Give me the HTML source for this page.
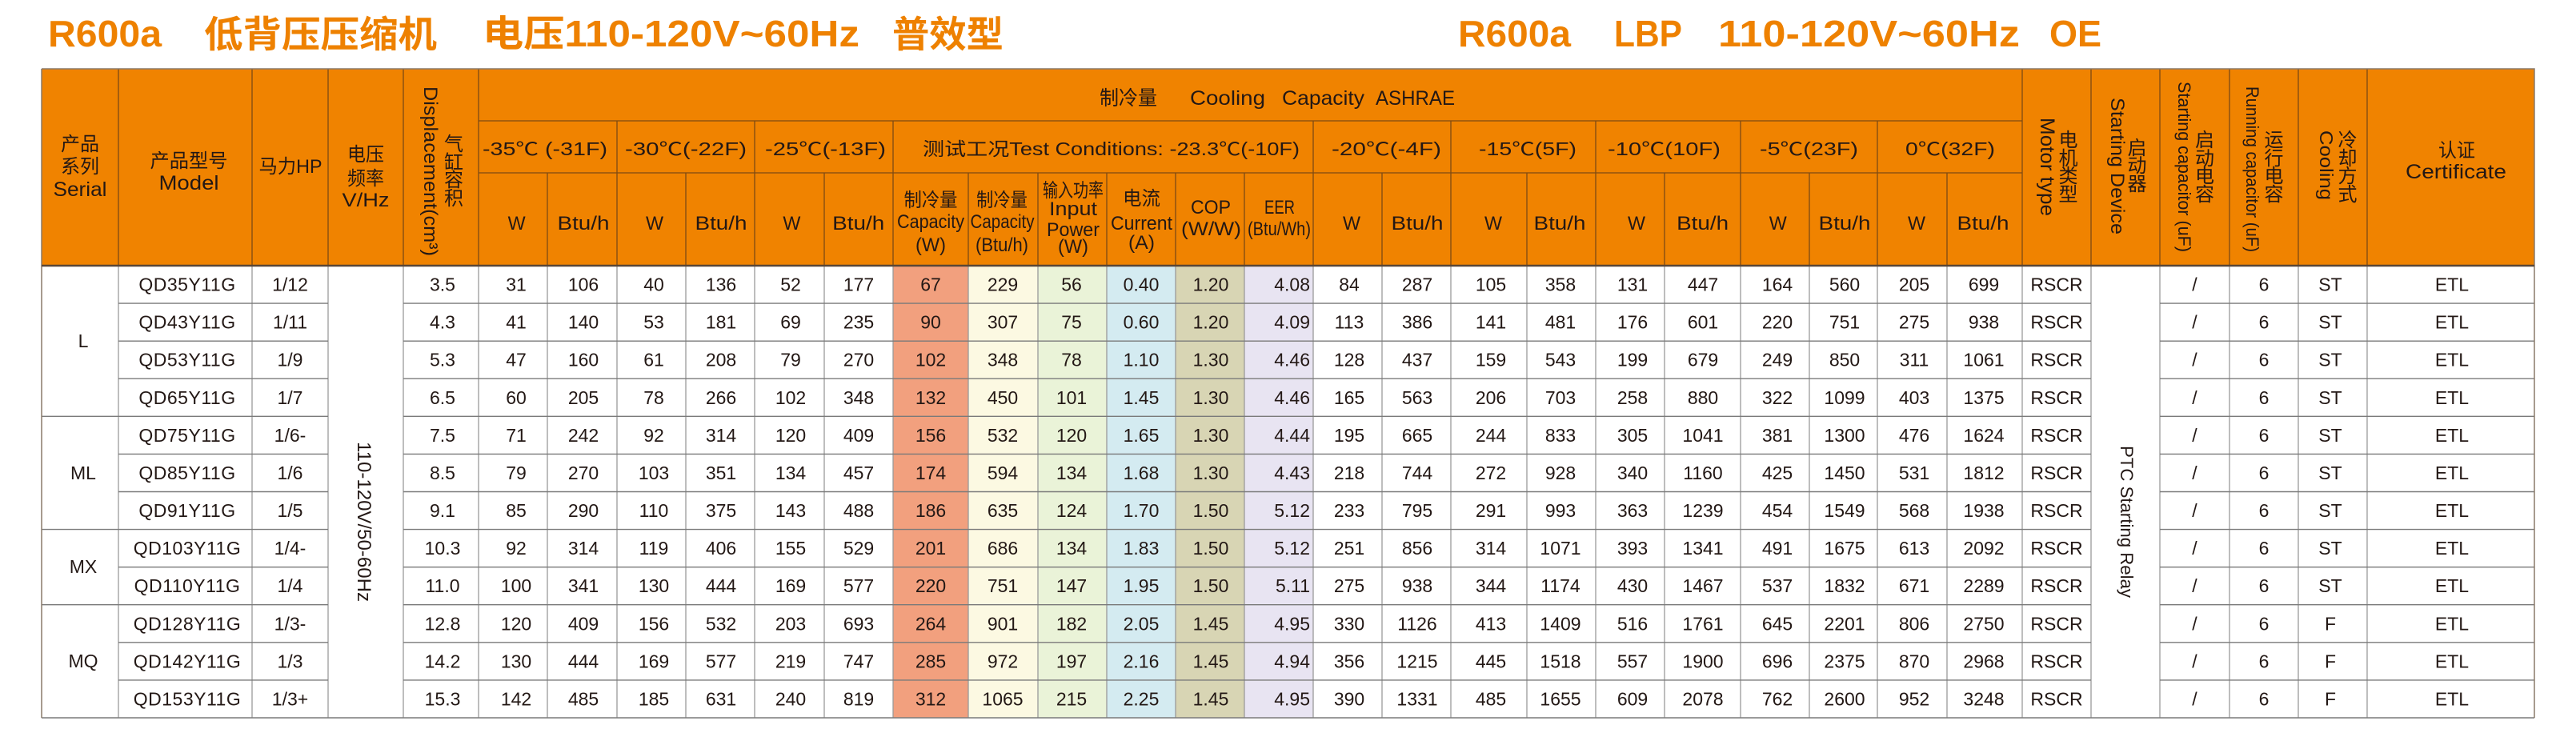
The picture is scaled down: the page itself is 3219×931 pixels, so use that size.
<!DOCTYPE html>
<html><head><meta charset="utf-8"><style>
html,body{margin:0;padding:0;background:#fff;}
svg{display:block;}
.t{font-family:"Liberation Sans","Noto Sans CJK SC",sans-serif;font-weight:bold;fill:#EE8100;font-size:46px;}
.h{font-family:"Liberation Sans","Noto Sans CJK SC",sans-serif;fill:#231815;font-size:24px;text-anchor:middle;}
.hs{font-family:"Liberation Sans","Noto Sans CJK SC",sans-serif;fill:#231815;font-size:24px;text-anchor:start;}
.d{font-family:"Liberation Sans","Noto Sans CJK SC",sans-serif;fill:#231815;font-size:23px;text-anchor:middle;}
.e{text-anchor:end;}
</style></head><body>
<svg width="3219" height="931" viewBox="0 0 3219 931" xmlns="http://www.w3.org/2000/svg">
<rect x="0" y="0" width="3219" height="931" fill="#fff"/>
<!-- Titles -->
<text class="t" x="60" y="58" textLength="142" lengthAdjust="spacingAndGlyphs">R600a</text>
<text class="t" x="255" y="59" textLength="291" lengthAdjust="spacingAndGlyphs">低背压压缩机</text>
<text class="t" x="603" y="58" textLength="471" lengthAdjust="spacingAndGlyphs">电压110-120V~60Hz</text>
<text class="t" x="1115" y="59" textLength="139" lengthAdjust="spacingAndGlyphs">普效型</text>
<text class="t" x="1822" y="58" textLength="141" lengthAdjust="spacingAndGlyphs">R600a</text>
<text class="t" x="2017" y="58" textLength="85" lengthAdjust="spacingAndGlyphs">LBP</text>
<text class="t" x="2147" y="58" textLength="377" lengthAdjust="spacingAndGlyphs">110-120V~60Hz</text>
<text class="t" x="2561" y="58" textLength="65" lengthAdjust="spacingAndGlyphs">OE</text>

<!-- Header background -->
<rect x="52" y="86" width="3115" height="246" fill="#F08300"/>
<!-- Colored data columns -->
<rect x="1116" y="332" width="94" height="565" fill="#F2A07E"/>
<rect x="1210" y="332" width="87" height="565" fill="#FCF9E2"/>
<rect x="1297" y="332" width="86" height="565" fill="#EAF3D8"/>
<rect x="1383" y="332" width="86" height="565" fill="#D4EBF1"/>
<rect x="1469" y="332" width="86" height="565" fill="#D8D5B4"/>
<rect x="1555" y="332" width="86" height="565" fill="#E8E4F2"/>

<!-- Header lines -->
<g stroke="#7d4a14" stroke-width="1.3" fill="none">
<path d="M148 86V332M315 86V332M410 86V332M504 86V332M598 86V332M2527 86V332M2613 86V332M2699 86V332M2786 86V332M2872 86V332M2958 86V332"/>
<path d="M598 151H2527M598 216H2527"/>
<path d="M771 151V332M943 151V332M1116 151V332M1641 151V332M1813 151V332M1994 151V332M2175 151V332M2346 151V332"/>
<path d="M684 216V332M857 216V332M1030 216V332M1210 216V332M1297 216V332M1383 216V332M1469 216V332M1555 216V332M1727 216V332M1908 216V332M2080 216V332M2261 216V332M2433 216V332"/>
</g>

<!-- Data vertical lines -->
<g stroke="#9a9a9a" stroke-width="1.3" fill="none">
<path d="M148 332V897M315 332V897M410 332V897M504 332V897M598 332V897M684 332V897M771 332V897M857 332V897M943 332V897M1030 332V897M1116 332V897M1210 332V897M1297 332V897M1383 332V897M1469 332V897M1555 332V897M1641 332V897M1727 332V897M1813 332V897M1908 332V897M1994 332V897M2080 332V897M2175 332V897M2261 332V897M2346 332V897M2433 332V897M2527 332V897M2613 332V897M2699 332V897M2786 332V897M2872 332V897M2958 332V897"/>
</g>
<!-- Data horizontal lines -->
<g stroke="#7a7a7a" stroke-width="1.4" fill="none">
<path d="M148 379.1H410M504 379.1H2613M2699 379.1H3167"/>
<path d="M148 426.2H410M504 426.2H2613M2699 426.2H3167"/>
<path d="M148 473.2H410M504 473.2H2613M2699 473.2H3167"/>
<path d="M52 520.3H410M504 520.3H2613M2699 520.3H3167"/>
<path d="M148 567.4H410M504 567.4H2613M2699 567.4H3167"/>
<path d="M148 614.5H410M504 614.5H2613M2699 614.5H3167"/>
<path d="M52 661.6H410M504 661.6H2613M2699 661.6H3167"/>
<path d="M148 708.7H410M504 708.7H2613M2699 708.7H3167"/>
<path d="M52 755.7H410M504 755.7H2613M2699 755.7H3167"/>
<path d="M148 802.8H410M504 802.8H2613M2699 802.8H3167"/>
<path d="M148 849.9H410M504 849.9H2613M2699 849.9H3167"/>
<path d="M52 897H3167"/>
</g>
<!-- Outer border -->
<path d="M52 86H3167V897M52 86V897" stroke="#8a7a6a" stroke-width="1.5" fill="none"/>
<path d="M52 332H3167" stroke="#5a4636" stroke-width="2.5" fill="none"/>

<!-- Header texts -->
<g class="h">
<text x="100" y="188" textLength="48" lengthAdjust="spacingAndGlyphs">产品</text>
<text x="100" y="216" textLength="48" lengthAdjust="spacingAndGlyphs">系列</text>
<text x="100" y="245" font-size="25" textLength="67" lengthAdjust="spacingAndGlyphs">Serial</text>
<text x="236" y="209" textLength="97" lengthAdjust="spacingAndGlyphs">产品型号</text>
<text x="236" y="237" font-size="25" textLength="75" lengthAdjust="spacingAndGlyphs">Model</text>
<text x="363" y="216" textLength="79" lengthAdjust="spacingAndGlyphs">马力HP</text>
<text x="457" y="201" textLength="46" lengthAdjust="spacingAndGlyphs">电压</text>
<text x="457" y="231" textLength="46" lengthAdjust="spacingAndGlyphs">频率</text>
<text x="457" y="258" textLength="59" lengthAdjust="spacingAndGlyphs">V/Hz</text>
<text x="567" y="188">气</text>
<text x="567" y="211">缸</text>
<text x="567" y="233">容</text>
<text x="567" y="256">积</text>
<text x="1410" y="131" font-size="25" textLength="72" lengthAdjust="spacingAndGlyphs">制冷量</text>
<!-- row2 -->
<text x="681" y="194" font-size="23" textLength="156" lengthAdjust="spacingAndGlyphs">-35℃ (-31F)</text>
<text x="857" y="194" font-size="23" textLength="152" lengthAdjust="spacingAndGlyphs">-30℃(-22F)</text>
<text x="1031.5" y="194" font-size="23" textLength="151" lengthAdjust="spacingAndGlyphs">-25℃(-13F)</text>
<text x="1388.5" y="194" font-size="23" textLength="471" lengthAdjust="spacingAndGlyphs">测试工况Test Conditions: -23.3℃(-10F)</text>
<text x="1732.5" y="194" font-size="23" textLength="137" lengthAdjust="spacingAndGlyphs">-20℃(-4F)</text>
<text x="1909" y="194" font-size="23" textLength="122" lengthAdjust="spacingAndGlyphs">-15℃(5F)</text>
<text x="2079.5" y="194" font-size="23" textLength="141" lengthAdjust="spacingAndGlyphs">-10℃(10F)</text>
<text x="2260.5" y="194" font-size="23" textLength="123" lengthAdjust="spacingAndGlyphs">-5℃(23F)</text>
<text x="2437" y="194" font-size="23" textLength="112" lengthAdjust="spacingAndGlyphs">0℃(32F)</text>
<!-- row3 W / Btu/h -->
<text x="645.6" y="287" textLength="22" lengthAdjust="spacingAndGlyphs">W</text>
<text x="729" y="287" textLength="65" lengthAdjust="spacingAndGlyphs">Btu/h</text>
<text x="818" y="287" textLength="22" lengthAdjust="spacingAndGlyphs">W</text>
<text x="901" y="287" textLength="65" lengthAdjust="spacingAndGlyphs">Btu/h</text>
<text x="989.4" y="287" textLength="22" lengthAdjust="spacingAndGlyphs">W</text>
<text x="1072.7" y="287" textLength="65" lengthAdjust="spacingAndGlyphs">Btu/h</text>
<text x="1689" y="287" textLength="22" lengthAdjust="spacingAndGlyphs">W</text>
<text x="1771" y="287" textLength="65" lengthAdjust="spacingAndGlyphs">Btu/h</text>
<text x="1866" y="287" textLength="22" lengthAdjust="spacingAndGlyphs">W</text>
<text x="1949" y="287" textLength="65" lengthAdjust="spacingAndGlyphs">Btu/h</text>
<text x="2045" y="287" textLength="22" lengthAdjust="spacingAndGlyphs">W</text>
<text x="2127.6" y="287" textLength="65" lengthAdjust="spacingAndGlyphs">Btu/h</text>
<text x="2221.7" y="287" textLength="22" lengthAdjust="spacingAndGlyphs">W</text>
<text x="2305" y="287" textLength="65" lengthAdjust="spacingAndGlyphs">Btu/h</text>
<text x="2395" y="287" textLength="22" lengthAdjust="spacingAndGlyphs">W</text>
<text x="2478" y="287" textLength="65" lengthAdjust="spacingAndGlyphs">Btu/h</text>
<!-- test sub headers -->
<text x="1163" y="258" textLength="67" lengthAdjust="spacingAndGlyphs">制冷量</text>
<text x="1163" y="285" textLength="84" lengthAdjust="spacingAndGlyphs">Capacity</text>
<text x="1163" y="314" textLength="38" lengthAdjust="spacingAndGlyphs">(W)</text>
<text x="1252" y="258" textLength="64" lengthAdjust="spacingAndGlyphs">制冷量</text>
<text x="1252.5" y="285" textLength="80" lengthAdjust="spacingAndGlyphs">Capacity</text>
<text x="1252" y="314" textLength="66" lengthAdjust="spacingAndGlyphs">(Btu/h)</text>
<text x="1341" y="246" textLength="76" lengthAdjust="spacingAndGlyphs">输入功率</text>
<text x="1341" y="269" textLength="60" lengthAdjust="spacingAndGlyphs">Input</text>
<text x="1341" y="295" textLength="66" lengthAdjust="spacingAndGlyphs">Power</text>
<text x="1341" y="316" textLength="38" lengthAdjust="spacingAndGlyphs">(W)</text>
<text x="1426.5" y="256" textLength="47" lengthAdjust="spacingAndGlyphs">电流</text>
<text x="1426.5" y="287" textLength="77" lengthAdjust="spacingAndGlyphs">Current</text>
<text x="1426.5" y="311" textLength="33" lengthAdjust="spacingAndGlyphs">(A)</text>
<text x="1513" y="267" textLength="50" lengthAdjust="spacingAndGlyphs">COP</text>
<text x="1513.5" y="294" textLength="75" lengthAdjust="spacingAndGlyphs">(W/W)</text>
<text x="1599" y="267" textLength="38" lengthAdjust="spacingAndGlyphs">EER</text>
<text x="1598.5" y="294" textLength="79" lengthAdjust="spacingAndGlyphs">(Btu/Wh)</text>
<!-- right CJK stacks -->
<text x="2584.5" y="183">电</text><text x="2584.5" y="206">机</text><text x="2584.5" y="228">类</text><text x="2584.5" y="251">型</text>
<text x="2670.5" y="193">启</text><text x="2670.5" y="215">动</text><text x="2670.5" y="238">器</text>
<text x="2755" y="183">启</text><text x="2755" y="206">动</text><text x="2755" y="228">电</text><text x="2755" y="251">容</text>
<text x="2841.5" y="183">运</text><text x="2841.5" y="206">行</text><text x="2841.5" y="228">电</text><text x="2841.5" y="251">容</text>
<text x="2933.5" y="183">冷</text><text x="2933.5" y="206">却</text><text x="2933.5" y="228">方</text><text x="2933.5" y="251">式</text>
<text x="3070" y="196" textLength="46" lengthAdjust="spacingAndGlyphs">认证</text>
<text x="3069" y="223" font-size="25" textLength="126" lengthAdjust="spacingAndGlyphs">Certificate</text>
</g>
<g class="hs">
<text x="1487" y="131" font-size="25" textLength="94" lengthAdjust="spacingAndGlyphs">Cooling</text>
<text x="1602" y="131" font-size="25" textLength="103" lengthAdjust="spacingAndGlyphs">Capacity</text>
<text x="1719" y="131" font-size="25" textLength="99" lengthAdjust="spacingAndGlyphs">ASHRAE</text>
<text transform="translate(530,108) rotate(90)" x="0" y="0" font-size="24" textLength="212" lengthAdjust="spacingAndGlyphs">Displacement(cm³)</text>
<text transform="translate(2550,147) rotate(90)" x="0" y="0" font-size="25" textLength="123" lengthAdjust="spacingAndGlyphs">Motor type</text>
<text transform="translate(2638,122) rotate(90)" x="0" y="0" font-size="24" textLength="171" lengthAdjust="spacingAndGlyphs">Starting Device</text>
<text transform="translate(2722,102) rotate(90)" x="0" y="0" font-size="22" textLength="213" lengthAdjust="spacingAndGlyphs">Starting capacitor (uF)</text>
<text transform="translate(2807,108) rotate(90)" x="0" y="0" font-size="22" textLength="207" lengthAdjust="spacingAndGlyphs">Running capacitor (uF)</text>
<text transform="translate(2899,163) rotate(90)" x="0" y="0" font-size="23" textLength="87" lengthAdjust="spacingAndGlyphs">Cooling</text>
<!-- data merged vertical texts -->
<text transform="translate(447,552) rotate(90)" x="0" y="0" font-size="24" textLength="200" lengthAdjust="spacingAndGlyphs">110-120V/50-60Hz</text>
<text transform="translate(2650,557) rotate(90)" x="0" y="0" font-size="22" textLength="190" lengthAdjust="spacingAndGlyphs">PTC Starting Relay</text>
</g>

<!-- Data -->
<g class="d">
<text x="104" y="434">L</text>
<text x="104" y="599">ML</text>
<text x="104" y="716">MX</text>
<text x="104" y="834">MQ</text>

<!-- Row 1 -->
<g transform="translate(0,363.5)">
<text x="234" y="0" letter-spacing="0.5">QD35Y11G</text><text x="362.5" y="0">1/12</text><text x="553" y="0">3.5</text>
<text x="645" y="0">31</text><text x="729" y="0">106</text><text x="817" y="0">40</text><text x="901" y="0">136</text><text x="988" y="0">52</text><text x="1073" y="0">177</text>
<text x="1163" y="0">67</text><text x="1253" y="0">229</text><text x="1339" y="0">56</text><text x="1426" y="0">0.40</text><text x="1513" y="0">1.20</text><text class="e" x="1637" y="0">4.08</text>
<text x="1686" y="0">84</text><text x="1771" y="0">287</text><text x="1863" y="0">105</text><text x="1950" y="0">358</text><text x="2040" y="0">131</text><text x="2128" y="0">447</text><text x="2221" y="0">164</text><text x="2305" y="0">560</text><text x="2392" y="0">205</text><text x="2479" y="0">699</text>
<text x="2570" y="0">RSCR</text><text x="2742.5" y="0">/</text><text x="2829" y="0">6</text><text x="2912" y="0">ST</text><text x="3064" y="0">ETL</text>
</g>
<!-- Row 2 -->
<g transform="translate(0,410.6)">
<text x="234" y="0" letter-spacing="0.5">QD43Y11G</text><text x="362.5" y="0">1/11</text><text x="553" y="0">4.3</text>
<text x="645" y="0">41</text><text x="729" y="0">140</text><text x="817" y="0">53</text><text x="901" y="0">181</text><text x="988" y="0">69</text><text x="1073" y="0">235</text>
<text x="1163" y="0">90</text><text x="1253" y="0">307</text><text x="1339" y="0">75</text><text x="1426" y="0">0.60</text><text x="1513" y="0">1.20</text><text class="e" x="1637" y="0">4.09</text>
<text x="1686" y="0">113</text><text x="1771" y="0">386</text><text x="1863" y="0">141</text><text x="1950" y="0">481</text><text x="2040" y="0">176</text><text x="2128" y="0">601</text><text x="2221" y="0">220</text><text x="2305" y="0">751</text><text x="2392" y="0">275</text><text x="2479" y="0">938</text>
<text x="2570" y="0">RSCR</text><text x="2742.5" y="0">/</text><text x="2829" y="0">6</text><text x="2912" y="0">ST</text><text x="3064" y="0">ETL</text>
</g>
<!-- Row 3 -->
<g transform="translate(0,457.7)">
<text x="234" y="0" letter-spacing="0.5">QD53Y11G</text><text x="362.5" y="0">1/9</text><text x="553" y="0">5.3</text>
<text x="645" y="0">47</text><text x="729" y="0">160</text><text x="817" y="0">61</text><text x="901" y="0">208</text><text x="988" y="0">79</text><text x="1073" y="0">270</text>
<text x="1163" y="0">102</text><text x="1253" y="0">348</text><text x="1339" y="0">78</text><text x="1426" y="0">1.10</text><text x="1513" y="0">1.30</text><text class="e" x="1637" y="0">4.46</text>
<text x="1686" y="0">128</text><text x="1771" y="0">437</text><text x="1863" y="0">159</text><text x="1950" y="0">543</text><text x="2040" y="0">199</text><text x="2128" y="0">679</text><text x="2221" y="0">249</text><text x="2305" y="0">850</text><text x="2392" y="0">311</text><text x="2479" y="0">1061</text>
<text x="2570" y="0">RSCR</text><text x="2742.5" y="0">/</text><text x="2829" y="0">6</text><text x="2912" y="0">ST</text><text x="3064" y="0">ETL</text>
</g>
<!-- Row 4 -->
<g transform="translate(0,504.8)">
<text x="234" y="0" letter-spacing="0.5">QD65Y11G</text><text x="362.5" y="0">1/7</text><text x="553" y="0">6.5</text>
<text x="645" y="0">60</text><text x="729" y="0">205</text><text x="817" y="0">78</text><text x="901" y="0">266</text><text x="988" y="0">102</text><text x="1073" y="0">348</text>
<text x="1163" y="0">132</text><text x="1253" y="0">450</text><text x="1339" y="0">101</text><text x="1426" y="0">1.45</text><text x="1513" y="0">1.30</text><text class="e" x="1637" y="0">4.46</text>
<text x="1686" y="0">165</text><text x="1771" y="0">563</text><text x="1863" y="0">206</text><text x="1950" y="0">703</text><text x="2040" y="0">258</text><text x="2128" y="0">880</text><text x="2221" y="0">322</text><text x="2305" y="0">1099</text><text x="2392" y="0">403</text><text x="2479" y="0">1375</text>
<text x="2570" y="0">RSCR</text><text x="2742.5" y="0">/</text><text x="2829" y="0">6</text><text x="2912" y="0">ST</text><text x="3064" y="0">ETL</text>
</g>
<!-- Row 5 -->
<g transform="translate(0,551.9)">
<text x="234" y="0" letter-spacing="0.5">QD75Y11G</text><text x="362.5" y="0">1/6-</text><text x="553" y="0">7.5</text>
<text x="645" y="0">71</text><text x="729" y="0">242</text><text x="817" y="0">92</text><text x="901" y="0">314</text><text x="988" y="0">120</text><text x="1073" y="0">409</text>
<text x="1163" y="0">156</text><text x="1253" y="0">532</text><text x="1339" y="0">120</text><text x="1426" y="0">1.65</text><text x="1513" y="0">1.30</text><text class="e" x="1637" y="0">4.44</text>
<text x="1686" y="0">195</text><text x="1771" y="0">665</text><text x="1863" y="0">244</text><text x="1950" y="0">833</text><text x="2040" y="0">305</text><text x="2128" y="0">1041</text><text x="2221" y="0">381</text><text x="2305" y="0">1300</text><text x="2392" y="0">476</text><text x="2479" y="0">1624</text>
<text x="2570" y="0">RSCR</text><text x="2742.5" y="0">/</text><text x="2829" y="0">6</text><text x="2912" y="0">ST</text><text x="3064" y="0">ETL</text>
</g>
<!-- Row 6 -->
<g transform="translate(0,599)">
<text x="234" y="0" letter-spacing="0.5">QD85Y11G</text><text x="362.5" y="0">1/6</text><text x="553" y="0">8.5</text>
<text x="645" y="0">79</text><text x="729" y="0">270</text><text x="817" y="0">103</text><text x="901" y="0">351</text><text x="988" y="0">134</text><text x="1073" y="0">457</text>
<text x="1163" y="0">174</text><text x="1253" y="0">594</text><text x="1339" y="0">134</text><text x="1426" y="0">1.68</text><text x="1513" y="0">1.30</text><text class="e" x="1637" y="0">4.43</text>
<text x="1686" y="0">218</text><text x="1771" y="0">744</text><text x="1863" y="0">272</text><text x="1950" y="0">928</text><text x="2040" y="0">340</text><text x="2128" y="0">1160</text><text x="2221" y="0">425</text><text x="2305" y="0">1450</text><text x="2392" y="0">531</text><text x="2479" y="0">1812</text>
<text x="2570" y="0">RSCR</text><text x="2742.5" y="0">/</text><text x="2829" y="0">6</text><text x="2912" y="0">ST</text><text x="3064" y="0">ETL</text>
</g>
<!-- Row 7 -->
<g transform="translate(0,646)">
<text x="234" y="0" letter-spacing="0.5">QD91Y11G</text><text x="362.5" y="0">1/5</text><text x="553" y="0">9.1</text>
<text x="645" y="0">85</text><text x="729" y="0">290</text><text x="817" y="0">110</text><text x="901" y="0">375</text><text x="988" y="0">143</text><text x="1073" y="0">488</text>
<text x="1163" y="0">186</text><text x="1253" y="0">635</text><text x="1339" y="0">124</text><text x="1426" y="0">1.70</text><text x="1513" y="0">1.50</text><text class="e" x="1637" y="0">5.12</text>
<text x="1686" y="0">233</text><text x="1771" y="0">795</text><text x="1863" y="0">291</text><text x="1950" y="0">993</text><text x="2040" y="0">363</text><text x="2128" y="0">1239</text><text x="2221" y="0">454</text><text x="2305" y="0">1549</text><text x="2392" y="0">568</text><text x="2479" y="0">1938</text>
<text x="2570" y="0">RSCR</text><text x="2742.5" y="0">/</text><text x="2829" y="0">6</text><text x="2912" y="0">ST</text><text x="3064" y="0">ETL</text>
</g>
<!-- Row 8 -->
<g transform="translate(0,693.1)">
<text x="234" y="0" letter-spacing="0.5">QD103Y11G</text><text x="362.5" y="0">1/4-</text><text x="553" y="0">10.3</text>
<text x="645" y="0">92</text><text x="729" y="0">314</text><text x="817" y="0">119</text><text x="901" y="0">406</text><text x="988" y="0">155</text><text x="1073" y="0">529</text>
<text x="1163" y="0">201</text><text x="1253" y="0">686</text><text x="1339" y="0">134</text><text x="1426" y="0">1.83</text><text x="1513" y="0">1.50</text><text class="e" x="1637" y="0">5.12</text>
<text x="1686" y="0">251</text><text x="1771" y="0">856</text><text x="1863" y="0">314</text><text x="1950" y="0">1071</text><text x="2040" y="0">393</text><text x="2128" y="0">1341</text><text x="2221" y="0">491</text><text x="2305" y="0">1675</text><text x="2392" y="0">613</text><text x="2479" y="0">2092</text>
<text x="2570" y="0">RSCR</text><text x="2742.5" y="0">/</text><text x="2829" y="0">6</text><text x="2912" y="0">ST</text><text x="3064" y="0">ETL</text>
</g>
<!-- Row 9 -->
<g transform="translate(0,740.2)">
<text x="234" y="0" letter-spacing="0.5">QD110Y11G</text><text x="362.5" y="0">1/4</text><text x="553" y="0">11.0</text>
<text x="645" y="0">100</text><text x="729" y="0">341</text><text x="817" y="0">130</text><text x="901" y="0">444</text><text x="988" y="0">169</text><text x="1073" y="0">577</text>
<text x="1163" y="0">220</text><text x="1253" y="0">751</text><text x="1339" y="0">147</text><text x="1426" y="0">1.95</text><text x="1513" y="0">1.50</text><text class="e" x="1637" y="0">5.11</text>
<text x="1686" y="0">275</text><text x="1771" y="0">938</text><text x="1863" y="0">344</text><text x="1950" y="0">1174</text><text x="2040" y="0">430</text><text x="2128" y="0">1467</text><text x="2221" y="0">537</text><text x="2305" y="0">1832</text><text x="2392" y="0">671</text><text x="2479" y="0">2289</text>
<text x="2570" y="0">RSCR</text><text x="2742.5" y="0">/</text><text x="2829" y="0">6</text><text x="2912" y="0">ST</text><text x="3064" y="0">ETL</text>
</g>
<!-- Row 10 -->
<g transform="translate(0,787.3)">
<text x="234" y="0" letter-spacing="0.5">QD128Y11G</text><text x="362.5" y="0">1/3-</text><text x="553" y="0">12.8</text>
<text x="645" y="0">120</text><text x="729" y="0">409</text><text x="817" y="0">156</text><text x="901" y="0">532</text><text x="988" y="0">203</text><text x="1073" y="0">693</text>
<text x="1163" y="0">264</text><text x="1253" y="0">901</text><text x="1339" y="0">182</text><text x="1426" y="0">2.05</text><text x="1513" y="0">1.45</text><text class="e" x="1637" y="0">4.95</text>
<text x="1686" y="0">330</text><text x="1771" y="0">1126</text><text x="1863" y="0">413</text><text x="1950" y="0">1409</text><text x="2040" y="0">516</text><text x="2128" y="0">1761</text><text x="2221" y="0">645</text><text x="2305" y="0">2201</text><text x="2392" y="0">806</text><text x="2479" y="0">2750</text>
<text x="2570" y="0">RSCR</text><text x="2742.5" y="0">/</text><text x="2829" y="0">6</text><text x="2912" y="0">F</text><text x="3064" y="0">ETL</text>
</g>
<!-- Row 11 -->
<g transform="translate(0,834.4)">
<text x="234" y="0" letter-spacing="0.5">QD142Y11G</text><text x="362.5" y="0">1/3</text><text x="553" y="0">14.2</text>
<text x="645" y="0">130</text><text x="729" y="0">444</text><text x="817" y="0">169</text><text x="901" y="0">577</text><text x="988" y="0">219</text><text x="1073" y="0">747</text>
<text x="1163" y="0">285</text><text x="1253" y="0">972</text><text x="1339" y="0">197</text><text x="1426" y="0">2.16</text><text x="1513" y="0">1.45</text><text class="e" x="1637" y="0">4.94</text>
<text x="1686" y="0">356</text><text x="1771" y="0">1215</text><text x="1863" y="0">445</text><text x="1950" y="0">1518</text><text x="2040" y="0">557</text><text x="2128" y="0">1900</text><text x="2221" y="0">696</text><text x="2305" y="0">2375</text><text x="2392" y="0">870</text><text x="2479" y="0">2968</text>
<text x="2570" y="0">RSCR</text><text x="2742.5" y="0">/</text><text x="2829" y="0">6</text><text x="2912" y="0">F</text><text x="3064" y="0">ETL</text>
</g>
<!-- Row 12 -->
<g transform="translate(0,881.5)">
<text x="234" y="0" letter-spacing="0.5">QD153Y11G</text><text x="362.5" y="0">1/3+</text><text x="553" y="0">15.3</text>
<text x="645" y="0">142</text><text x="729" y="0">485</text><text x="817" y="0">185</text><text x="901" y="0">631</text><text x="988" y="0">240</text><text x="1073" y="0">819</text>
<text x="1163" y="0">312</text><text x="1253" y="0">1065</text><text x="1339" y="0">215</text><text x="1426" y="0">2.25</text><text x="1513" y="0">1.45</text><text class="e" x="1637" y="0">4.95</text>
<text x="1686" y="0">390</text><text x="1771" y="0">1331</text><text x="1863" y="0">485</text><text x="1950" y="0">1655</text><text x="2040" y="0">609</text><text x="2128" y="0">2078</text><text x="2221" y="0">762</text><text x="2305" y="0">2600</text><text x="2392" y="0">952</text><text x="2479" y="0">3248</text>
<text x="2570" y="0">RSCR</text><text x="2742.5" y="0">/</text><text x="2829" y="0">6</text><text x="2912" y="0">F</text><text x="3064" y="0">ETL</text>
</g>
</g>
</svg>
</body></html>
